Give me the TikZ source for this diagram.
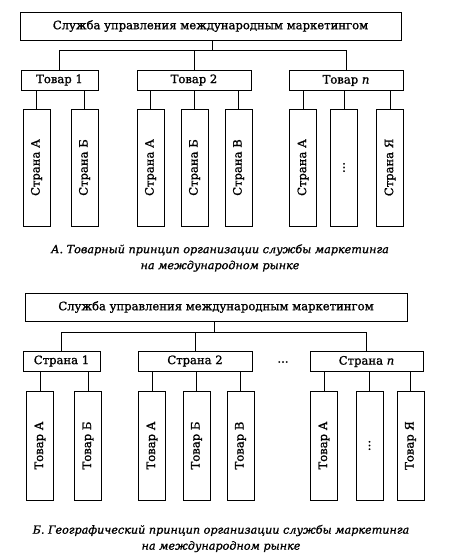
\documentclass[tikz,border=0pt]{standalone}
\usepackage{fontspec}
\setmainfont{DejaVu Serif}[FakeBold=1.2, AutoFakeBold=1.2]
\usepackage{tikz}
\usetikzlibrary{positioning, calc}

\begin{document}
\begin{tikzpicture}[x=1pt, y=-1pt,
  headbox/.style={draw, line width=0.8pt, inner sep=0pt, minimum height=28pt,
    font=\fontsize{11.6}{13}\selectfont\bfseries},
  groupbox/.style={draw, line width=0.8pt, inner sep=0pt, minimum height=20pt,
    font=\fontsize{11.6}{13}\selectfont\bfseries},
  leafbox/.style={draw, line width=0.8pt, inner sep=0pt, minimum width=27pt},
  leaftext/.style={rotate=90, font=\fontsize{11.6}{13}\selectfont\bfseries},
  link/.style={line width=0.5pt},
  caption/.style={align=center, font=\fontsize{11.2}{16}\selectfont\itshape}]

  \useasboundingbox (0,0) rectangle (468,559);

  \node[headbox, minimum width=381pt] (headA) at (210.5,26)
    {Служба управления международным маркетингом};
  \coordinate (busA) at (212,50);

  \node[groupbox, minimum width=77pt]  (prod1) at (59.5,80) {Товар 1};
  \node[groupbox, minimum width=114pt] (prod2) at (194,80) {Товар 2};
  \node[groupbox, minimum width=114pt] (prodn) at (346,80.5) {Товар \textit{n}};

  \draw[link] (busA |- headA.south) -- (busA) -| (prod1);
  \draw[link] (busA) -| (prod2);
  \draw[link] (busA) -| (prodn);

  \node[leafbox, minimum height=117pt] (pA1) at (36.5,167.5) {};
  \node[leafbox, minimum height=117pt] (pA2) at (84.5,167.5) {};
  \node[leafbox, minimum height=117pt] (pB1) at (150.5,167.5) {};
  \node[leafbox, minimum height=117pt] (pB2) at (194.5,167.5) {};
  \node[leafbox, minimum height=117pt] (pB3) at (238.5,167.5) {};
  \node[leafbox, minimum height=117pt] (pN1) at (303,167.5) {};
  \node[leafbox, minimum height=117pt] (pN2) at (344,167.5) {};
  \node[leafbox, minimum height=117pt] (pN3) at (390,167.5) {};

  \node[leaftext] at (pA1) {Страна А};
  \node[leaftext] at (pA2) {Страна Б};
  \node[leaftext] at (pB1) {Страна А};
  \node[leaftext] at (pB2) {Страна Б};
  \node[leaftext] at (pB3) {Страна В};
  \node[leaftext] at (pN1) {Страна А};
  \node[leaftext] at (pN2) {...};
  \node[leaftext] at (pN3) {Страна Я};

  \draw[link] (prod1.south -| pA1) -- (pA1);
  \draw[link] (prod1.south -| pA2) -- (pA2);
  \draw[link] (prod2.south -| pB1) -- (pB1);
  \draw[link] (prod2.south -| pB2) -- (pB2);
  \draw[link] (prod2.south -| pB3) -- (pB3);
  \draw[link] (prodn.south -| pN1) -- (pN1);
  \draw[link] (prodn.south -| pN2) -- (pN2);
  \draw[link] (prodn.south -| pN3) -- (pN3);

  \node[caption] (capA) at (220,258)
    {\bfseries А. Товарный принцип организации службы маркетинга\\
     \bfseries на международном рынке};

  \node[headbox, minimum width=382pt] (headB) at (216,307)
    {Служба управления международным маркетингом};
  \coordinate (busB) at (214,332);

  \node[groupbox, minimum width=77pt]  (land1) at (61.5,361) {Страна 1};
  \node[groupbox, minimum width=114pt] (land2) at (195,361) {Страна 2};
  \node[font=\fontsize{11.6}{13}\selectfont\bfseries] (landdots) at (283,362) {...};
  \node[groupbox, minimum width=113pt] (landn) at (366.5,361.5) {Страна \textit{n}};

  \draw[link] (busB |- headB.south) -- (busB) -| (land1);
  \draw[link] (busB) -| (land2);
  \draw[link] (busB) -| (landn);

  \node[leafbox, minimum height=109pt] (gA1) at (40,445.5) {};
  \node[leafbox, minimum height=109pt] (gA2) at (88,445.5) {};
  \node[leafbox, minimum height=109pt] (gB1) at (152,445.5) {};
  \node[leafbox, minimum height=109pt] (gB2) at (196.5,445.5) {};
  \node[leafbox, minimum height=109pt] (gB3) at (240.5,445.5) {};
  \node[leafbox, minimum height=109pt] (gN1) at (324,445.5) {};
  \node[leafbox, minimum height=109pt] (gN2) at (369.5,445.5) {};
  \node[leafbox, minimum height=109pt] (gN3) at (410.5,445.5) {};

  \node[leaftext] at (gA1) {Товар А};
  \node[leaftext] at (gA2) {Товар Б};
  \node[leaftext] at (gB1) {Товар А};
  \node[leaftext] at (gB2) {Товар Б};
  \node[leaftext] at (gB3) {Товар В};
  \node[leaftext] at (gN1) {Товар А};
  \node[leaftext] at (gN2) {...};
  \node[leaftext] at (gN3) {Товар Я};

  \draw[link] (land1.south -| gA1) -- (gA1);
  \draw[link] (land1.south -| gA2) -- (gA2);
  \draw[link] (land2.south -| gB1) -- (gB1);
  \draw[link] (land2.south -| gB2) -- (gB2);
  \draw[link] (land2.south -| gB3) -- (gB3);
  \draw[link] (landn.south -| gN1) -- (gN1);
  \draw[link] (landn.south -| gN2) -- (gN2);
  \draw[link] (landn.south -| gN3) -- (gN3);

  \node[caption] (capB) at (221,538.5)
    {\bfseries Б. Географический принцип организации службы маркетинга\\
     \bfseries на международном рынке};

\end{tikzpicture}
\end{document}
